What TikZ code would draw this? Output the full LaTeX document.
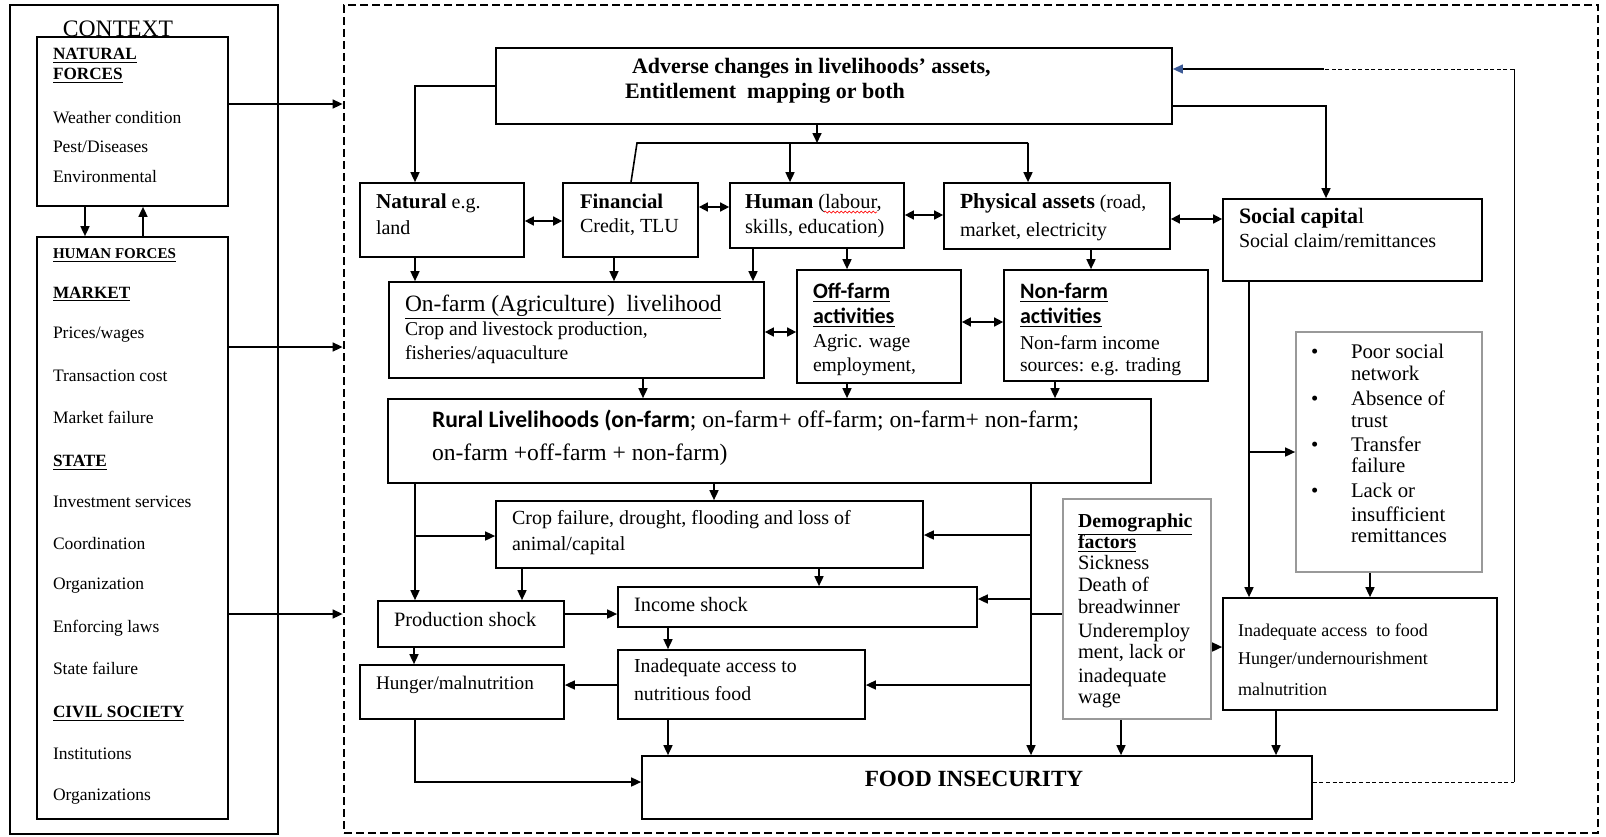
\documentclass[tikz,border=0pt]{standalone}
\usepackage{fontspec}
\setmainfont{Liberation Serif}
\newfontfamily\calib{Carlito}
\usetikzlibrary{arrows.meta,decorations.pathmorphing}
\definecolor{tipblue}{RGB}{60,90,150}
\newcommand\fsz[1]{\fontsize{#1}{#1}\selectfont}
\tikzset{
 boxst/.style={draw, line width=0.85pt, inner sep=0},
 graybox/.style={draw=black!40, line width=0.85pt, inner sep=0},
 framest/.style={draw, line width=1.4pt, dash pattern=on 4pt off 2pt, inner sep=0},
 txt/.style={anchor=base west, inner sep=0, outer sep=0},
 arr/.style={line width=0.8pt, -{Triangle[length=5pt,width=4.5pt]}},
 darr/.style={line width=0.8pt, {Triangle[length=4.5pt,width=4.5pt]}-{Triangle[length=4.5pt,width=4.5pt]}},
 ln/.style={line width=0.8pt},
 thinln/.style={line width=0.5pt},
 fbdash/.style={dash pattern=on 2pt off 1.3pt},
 fbarr/.style={-{Triangle[length=5pt,width=4.5pt,color=tipblue]}},
}
\newcommand\mkbox[6][boxst]{\node[#1,minimum width={(#5-#3)*0.5pt},minimum height={(#6-#4)*0.5pt}] (#2) at ({(#3+#5)/2},{(#4+#6)/2}) {};}
\newcommand\tl[5][]{\node[txt,#1] (#2) at (#3,#4) {#5};}
\begin{document}
\begin{tikzpicture}[x=0.5pt,y=-0.5pt]
\useasboundingbox (0,0) rectangle (1606,836);
\fill[white] (0,0) rectangle (1606,836);

% ---------- CONTEXT panel ----------
\mkbox{ctx}{10}{5}{278}{834}
\mkbox{nat}{37}{37}{228}{206}
\mkbox{hum}{37}{237}{228}{819}
\tl[anchor=base]{tctx}{118}{36}{\fsz{11.8}CONTEXT}
\tl{tn1}{53}{59}{\fsz{8.6}\textbf{\underline{NATURAL}}}
\tl{tn2}{53}{79}{\fsz{8.6}\textbf{\underline{FORCES}}}
\tl{tn3}{53}{123}{\fsz{8.75}Weather condition}
\tl{tn4}{53}{152}{\fsz{8.75}Pest/Diseases}
\tl{tn5}{53}{182}{\fsz{8.75}Environmental}
\tl{th1}{53}{258}{\fsz{7.5}\textbf{\underline{HUMAN FORCES}}}
\tl{th2}{53}{298}{\fsz{8.6}\textbf{\underline{MARKET}}}
\tl{th3}{53}{338}{\fsz{8.75}Prices/wages}
\tl{th4}{53}{381}{\fsz{8.75}Transaction cost}
\tl{th5}{53}{423}{\fsz{8.75}Market failure}
\tl{th6}{53}{466}{\fsz{8.6}\textbf{\underline{STATE}}}
\tl{th7}{53}{507}{\fsz{8.75}Investment services}
\tl{th8}{53}{549}{\fsz{8.75}Coordination}
\tl{th9}{53}{589}{\fsz{8.75}Organization}
\tl{th10}{53}{632}{\fsz{8.75}Enforcing laws}
\tl{th11}{53}{674}{\fsz{8.75}State failure}
\tl{th12}{53}{717}{\fsz{8.6}\textbf{\underline{CIVIL SOCIETY}}}
\tl{th13}{53}{759}{\fsz{8.75}Institutions}
\tl{th14}{53}{800}{\fsz{8.75}Organizations}
\draw[arr] (nat.south -| 85,0) -- (hum.north -| 85,0);
\draw[arr] (hum.north -| 143,0) -- (nat.south -| 143,0);

% ---------- main frame ----------
\mkbox[framest]{frame}{344}{5}{1598}{833}
\draw[arr] (nat.east |- 0,104) -- (frame.west |- 0,104);
\draw[arr] (hum.east |- 0,347) -- (frame.west |- 0,347);
\draw[arr] (hum.east |- 0,614) -- (frame.west |- 0,614);

% ---------- boxes ----------
\mkbox{adv}{496}{48}{1172}{124}
\mkbox{natl}{360}{183}{524}{257}
\mkbox{fin}{563}{183}{698}{257}
\mkbox{humn}{730}{183}{904}{248}
\mkbox{phy}{944}{183}{1170}{249}
\mkbox{soc}{1223}{199}{1482}{281}
\mkbox{onf}{389}{282}{764}{378}
\mkbox{off}{797}{270}{961}{383}
\mkbox{non}{1004}{270}{1208}{381}
\mkbox{rur}{388}{399}{1151}{483}
\mkbox[graybox]{poor}{1296}{332}{1482}{572}
\mkbox{crop}{496}{501}{923}{568}
\mkbox{prod}{378}{601}{564}{647}
\mkbox{inc}{618}{587}{977}{627}
\mkbox{hung}{360}{665}{564}{719}
\mkbox{inadN}{618}{650}{865}{719}
\mkbox[graybox]{demo}{1063}{499}{1211}{719}
\mkbox{inadF}{1223}{598}{1497}{710}
\mkbox{food}{642}{756}{1312}{819}

% ---------- texts ----------
\tl{ta1}{632}{73}{\fsz{11}\textbf{Adverse changes in livelihoods’ assets,}}
\tl{ta2}{625}{98}{\fsz{11}\textbf{Entitlement\ \ mapping or both}}
\tl{tnl1}{376}{208}{\fsz{10.6}\textbf{Natural}\fsz{10} e.g.}
\tl{tnl2}{376}{234}{\fsz{10}land}
\tl{tf1}{580}{208}{\fsz{10.4}\textbf{Financial}}
\tl{tf2}{580}{232}{\fsz{10}Credit, TLU}
\tl{tu1}{745}{208}{\fsz{10.6}\textbf{Human}\fsz{10.2} (labour,}
\tl{tu2}{745}{233}{\fsz{10.2}skills, education)}
\draw[red, line width=0.35pt, decorate, decoration={snake, amplitude=0.5pt, segment length=2pt}] (824,212) -- (877,212);
\tl{tp1}{960}{208}{\fsz{10.8}\textbf{Physical assets}\fsz{9.8} (road,}
\tl{tp2}{960}{236}{\fsz{10.1}market, electricity}
\tl{ts1}{1239}{223}{\fsz{11}\textbf{Social capita}l}
\tl{ts2}{1239}{247}{\fsz{10}Social claim/remittances}
\tl{to1}{405}{311}{\fsz{11.7}\underline{On-farm (Agriculture)\ \ livelihood}}
\tl{to2}{405}{335}{\fsz{9.8}Crop and livestock production,}
\tl{to3}{405}{359}{\fsz{9.8}fisheries/aquaculture}
\tl{tof1}{813}{298}{\fsz{11}\calib\bfseries\underline{Off-farm}}
\tl{tof2}{813}{323}{\fsz{11}\calib\bfseries\underline{activities}}
\tl{tof3}{813}{347}{\fsz{9.8}Agric. wage}
\tl{tof4}{813}{371}{\fsz{9.8}employment,}
\tl{tno1}{1020}{298}{\fsz{11}\calib\bfseries\underline{Non-farm}}
\tl{tno2}{1020}{323}{\fsz{11}\calib\bfseries\underline{activities}}
\tl{tno3}{1020}{349}{\fsz{9.8}Non-farm income}
\tl{tno4}{1020}{371}{\fsz{9.8}sources: e.g. trading}
\tl{tr1}{432}{427}{\fsz{11.8}{\calib\bfseries Rural Livelihoods (on-farm}; on-farm+ off-farm; on-farm+ non-farm;}
\tl{tr2}{432}{460}{\fsz{11.8}on-farm +off-farm + non-farm)}
\tl{tc1}{512}{524}{\fsz{10}Crop failure, drought, flooding and loss of}
\tl{tc2}{512}{550}{\fsz{10}animal/capital}
\tl{tps}{394}{626}{\fsz{10.2}Production shock}
\tl{tis}{634}{611}{\fsz{10.2}Income shock}
\tl{thm}{376}{689}{\fsz{9.6}Hunger/malnutrition}
\tl{tin1}{634}{672}{\fsz{9.9}Inadequate access to}
\tl{tin2}{634}{700}{\fsz{9.9}nutritious food}
\tl[anchor=base]{tfood}{974}{786}{\fsz{11.6}\textbf{FOOD INSECURITY}}
% poor social list
\tl{bp1}{1311}{358}{\fsz{10.4}\textbullet}
\tl{bp2}{1311}{405}{\fsz{10.4}\textbullet}
\tl{bp3}{1311}{451}{\fsz{10.4}\textbullet}
\tl{bp4}{1311}{497}{\fsz{10.4}\textbullet}
\tl{tq1}{1351}{358}{\fsz{10.4}Poor social}
\tl{tq2}{1351}{380}{\fsz{10.4}network}
\tl{tq3}{1351}{405}{\fsz{10.4}Absence of}
\tl{tq4}{1351}{427}{\fsz{10.4}trust}
\tl{tq5}{1351}{451}{\fsz{10.4}Transfer}
\tl{tq6}{1351}{472}{\fsz{10.4}failure}
\tl{tq7}{1351}{497}{\fsz{10.4}Lack or}
\tl{tq8}{1351}{521}{\fsz{10.4}insufficient}
\tl{tq9}{1351}{542}{\fsz{10.4}remittances}
% demographic
\tl{td1}{1078}{527}{\fsz{9.9}\textbf{\underline{Demographic}}}
\tl{td2}{1078}{548}{\fsz{9.9}\textbf{\underline{factors}}}
\tl{td3}{1078}{569}{\fsz{10.2}Sickness}
\tl{td4}{1078}{591}{\fsz{10.2}Death of}
\tl{td5}{1078}{613}{\fsz{10.2}breadwinner}
\tl{td6}{1078}{637}{\fsz{10.2}Underemploy}
\tl{td7}{1078}{658}{\fsz{10.2}ment, lack or}
\tl{td8}{1078}{682}{\fsz{10.2}inadequate}
\tl{td9}{1078}{703}{\fsz{10.2}wage}
% inadequate access to food
\tl{tf3}{1238}{636}{\fsz{9}Inadequate access\ \ to food}
\tl{tf4}{1238}{664}{\fsz{9}Hunger/undernourishment}
\tl{tf5}{1238}{695}{\fsz{9}malnutrition}

% ---------- connectors ----------
% from Adverse
\draw[arr] (adv.west |- 0,86) -| (natl.north -| 415,0);
\coordinate (busL) at (637,143);
\coordinate (busR) at (1028,143);
\draw[ln] (fin.north -| 631,0) -- (busL) -- (busR);
\draw[arr] (adv.south -| 817,0) -- (busL -| 817,0);
\draw[arr] (busL -| 790,0) -- (humn.north -| 790,0);
\draw[arr] (busR) -- (phy.north -| busR);
\draw[arr] (adv.east |- 0,106) -| (soc.north -| 1326,0);
% feedback
\coordinate (fbB) at (1514,782);
\coordinate (fbT) at (1514,69);
\coordinate (fbM) at (1324,69);
\draw[thinln,fbdash] (food.east |- fbB) -- (fbB);
\draw[thinln] (fbB) -- (fbT);
\draw[thinln,fbdash] (fbT) -- (fbM);
\draw[line width=0.6pt,fbarr] (fbM) -- (adv.east |- fbT);
% asset double arrows
\draw[darr] (natl.east |- 0,221) -- (fin.west |- 0,221);
\draw[darr] (fin.east |- 0,207) -- (humn.west |- 0,207);
\draw[darr] (humn.east |- 0,215) -- (phy.west |- 0,215);
\draw[darr] (phy.east |- 0,219) -- (soc.west |- 0,219);
% assets to activities
\draw[arr] (natl.south -| 415,0) -- (onf.north -| 415,0);
\draw[arr] (fin.south -| 614,0) -- (onf.north -| 614,0);
\draw[arr] (humn.south -| 753,0) -- (onf.north -| 753,0);
\draw[arr] (humn.south -| 847,0) -- (off.north -| 847,0);
\draw[arr] (phy.south -| 1091,0) -- (non.north -| 1091,0);
\draw[darr] (onf.east |- 0,332) -- (off.west |- 0,332);
\draw[darr] (off.east |- 0,322) -- (non.west |- 0,322);
% activities to rural
\draw[arr] (onf.south -| 643,0) -- (rur.north -| 643,0);
\draw[arr] (off.south -| 847,0) -- (rur.north -| 847,0);
\draw[arr] (non.south -| 1055,0) -- (rur.north -| 1055,0);
% social capital branch
\coordinate (sj) at (1249,452);
\draw[arr] (soc.south -| sj) -- (inadF.north -| sj);
\draw[arr] (sj) -- (poor.west |- sj);
\draw[arr] (poor.south -| 1370,0) -- (inadF.north -| 1370,0);
\draw[arr] (inadF.south -| 1276,0) -- (food.north -| 1276,0);
\draw[arr] (demo.east |- 0,647) -- (inadF.west |- 0,647);
\draw[arr] (demo.south -| 1121,0) -- (food.north -| 1121,0);
% rural right vertical
\coordinate (rA) at (1031,535);
\coordinate (rB) at (1031,599);
\coordinate (rC) at (1031,614);
\coordinate (rD) at (1031,685);
\draw[arr] (rur.south -| rA) -- (food.north -| rA);
\draw[arr] (rA) -- (crop.east |- rA);
\draw[arr] (rB) -- (inc.east |- rB);
\draw[ln] (rC) -- (demo.west |- rC);
\draw[arr] (rD) -- (inadN.east |- rD);
% rural to crop, left vertical
\draw[arr] (rur.south -| 714,0) -- (crop.north -| 714,0);
\coordinate (lA) at (415,536);
\draw[arr] (rur.south -| lA) -- (prod.north -| lA);
\draw[arr] (lA) -- (crop.west |- lA);
% shocks
\draw[arr] (crop.south -| 522,0) -- (prod.north -| 522,0);
\draw[arr] (crop.south -| 819,0) -- (inc.north -| 819,0);
\draw[arr] (prod.east |- 0,614) -- (inc.west |- 0,614);
\draw[arr] (inc.south -| 668,0) -- (inadN.north -| 668,0);
\draw[arr] (prod.south -| 414,0) -- (hung.north -| 414,0);
\draw[arr] (inadN.west |- 0,685) -- (hung.east |- 0,685);
\draw[arr] (inadN.south -| 668,0) -- (food.north -| 668,0);
\draw[arr] (hung.south -| 415,0) |- (food.west |- 0,782);
\end{tikzpicture}
\end{document}
